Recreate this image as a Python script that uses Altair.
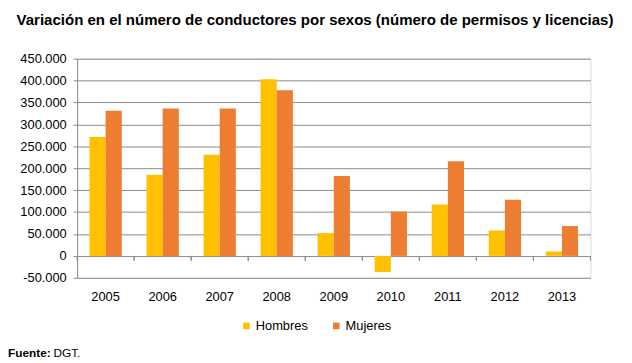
import altair as alt
import pandas as pd

years = ["2005", "2006", "2007", "2008", "2009", "2010", "2011", "2012", "2013"]
hombres = [271000, 185000, 231000, 403000, 52000, -37000, 117000, 58000, 10000]
mujeres = [331000, 336000, 336000, 378000, 182000, 101000, 216000, 128000, 68000]
series = ["Hombres", "Mujeres"]
colors = ["#FFC000", "#ED7D31"]
y_ticks = [-50000, 0, 50000, 100000, 150000, 200000, 250000, 300000, 350000, 400000, 450000]
title_text = "Variación en el número de conductores por sexos (número de permisos y licencias)"
source_bold = "Fuente:"
source_text = "DGT."

FONT = "Liberation Sans"
GRID = "#8a8a8a"

rows = []
for i, yr in enumerate(years):
    rows.append({"year": yr, "sexo": "Hombres", "value": hombres[i]})
    rows.append({"year": yr, "sexo": "Mujeres", "value": mujeres[i]})
df = pd.DataFrame(rows)
df_years = pd.DataFrame({"year": years})

x_scale = alt.Scale(domain=years, paddingInner=0, paddingOuter=0)
y_scale = alt.Scale(domain=[-50000, 450000], nice=False, zero=False)

y_axis = alt.Axis(values=y_ticks, grid=True, gridColor=GRID, domainColor=GRID,
                  tickColor=GRID, tickSize=4, labelPadding=7, labelFontSize=13,
                  labelFont=FONT, labelColor="#000", labelOverlap=False,
                  labelFlush=False, labelBound=False,
                  labelExpr="replace(replace(format(datum.value, ',d'), ',', '.'), '\u2212', '-')")

bars = alt.Chart(df).mark_bar().encode(
    x=alt.X("year:N", scale=x_scale, title=None,
            axis=alt.Axis(labelAngle=0, ticks=False, domain=False, labelPadding=13,
                          labelFontSize=13, labelFont=FONT, labelColor="#000")),
    xOffset=alt.XOffset("sexo:N", scale=alt.Scale(domain=series, paddingInner=0, paddingOuter=0.767)),
    y=alt.Y("value:Q", scale=y_scale, title=None, axis=y_axis),
    color=alt.Color("sexo:N", scale=alt.Scale(domain=series, range=colors),
                    legend=alt.Legend(title=None, orient="none", direction="horizontal",
                                      legendX=165, legendY=264, symbolType="square",
                                      symbolSize=45, labelFontSize=13, labelFont=FONT,
                                      labelColor="#000", columnPadding=22, labelOffset=3,
                                      padding=0, symbolStrokeWidth=0)),
)

ticks_left = alt.Chart(df_years).mark_rule(color=GRID, y2Offset=5).encode(
    x=alt.X("year:N", scale=x_scale, bandPosition=0),
    y=alt.YDatum(0, type="quantitative", scale=y_scale, axis=y_axis, title=None), y2=alt.Y2Datum(0),
)
ticks_right = alt.Chart(df_years).mark_rule(color=GRID, y2Offset=5).encode(
    x=alt.X("year:N", scale=x_scale, bandPosition=1),
    y=alt.YDatum(0, type="quantitative", scale=y_scale, axis=y_axis, title=None), y2=alt.Y2Datum(0),
)

src1 = alt.Chart(pd.DataFrame({"t": [source_bold]})).mark_text(
    align="left", baseline="middle", fontSize=12, fontWeight="bold", font=FONT, color="#000"
).encode(text="t:N", x=alt.value(-70), y=alt.value(298))
src2 = alt.Chart(pd.DataFrame({"t": [source_text]})).mark_text(
    align="left", baseline="middle", fontSize=12, font=FONT, color="#000"
).encode(text="t:N", x=alt.value(-24), y=alt.value(298))

chart = alt.layer(bars, ticks_left, ticks_right, src1, src2).properties(
    width=520, height=222,
    title=alt.TitleParams(title_text, fontSize=15.2, fontWeight="bold", font=FONT,
                          color="#000", anchor="middle", dx=-19, offset=25),
    autosize=alt.AutoSizeParams(type="none"),
    padding={"left": 70, "top": 49, "right": 34, "bottom": 84},
).configure_view(stroke=None).configure_axisY(labelOverlap=False).configure(background="white")

chart.save("out.html", embed_options={"renderer": "svg", "actions": False})
